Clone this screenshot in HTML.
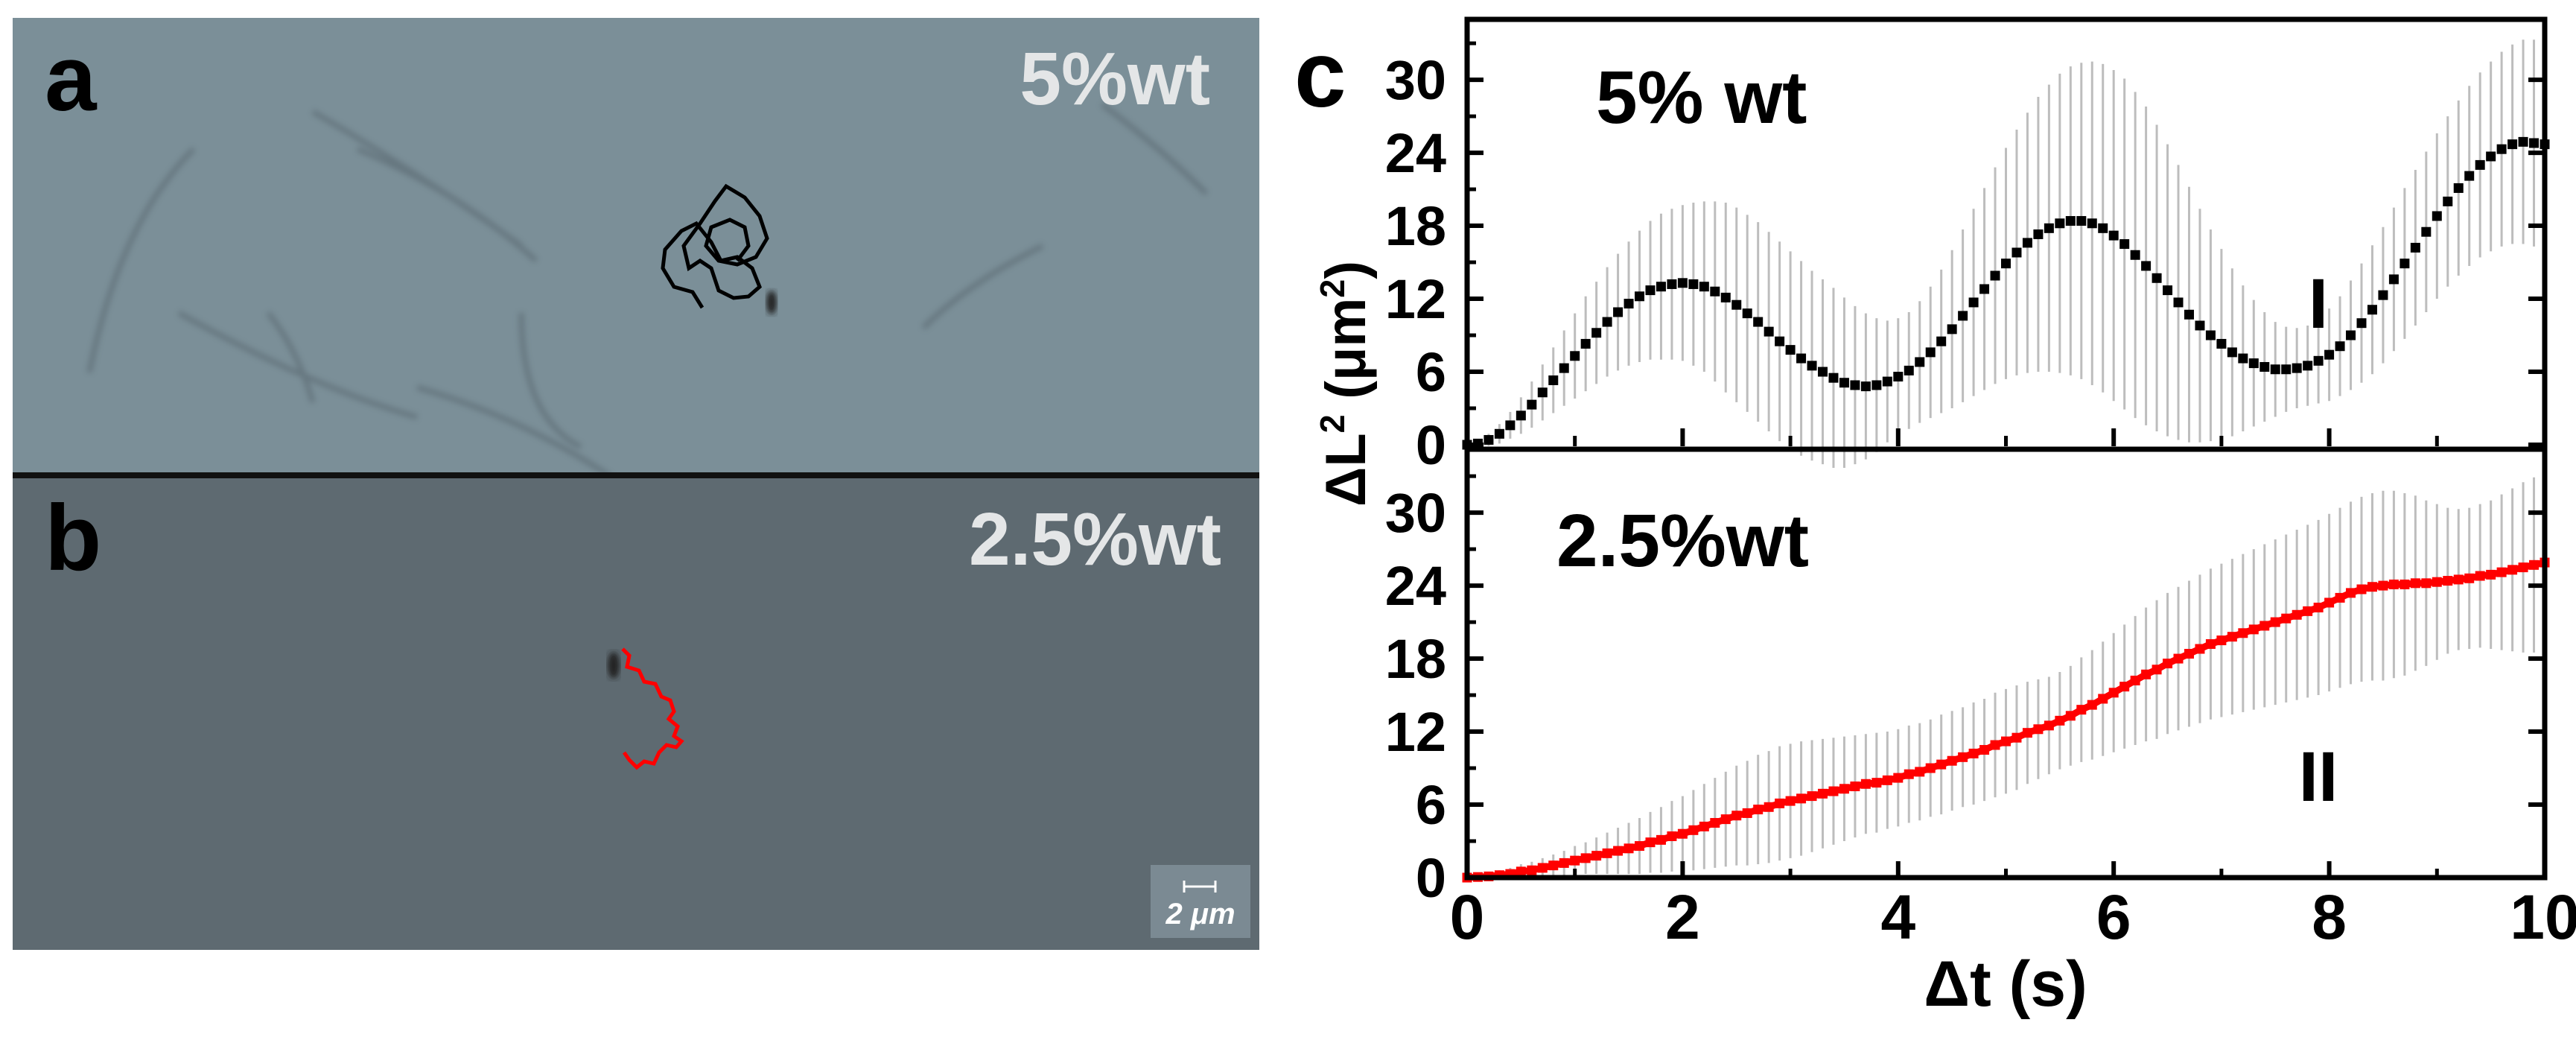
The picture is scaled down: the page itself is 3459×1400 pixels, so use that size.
<!DOCTYPE html>
<html><head><meta charset="utf-8"><style>
html,body{margin:0;padding:0;background:#fff}
svg{display:block}
text{font-family:"Liberation Sans",Arial,sans-serif;font-weight:bold}
</style></head><body>
<svg id="fig" width="3459" height="1400" viewBox="0 0 3459 1400" xmlns="http://www.w3.org/2000/svg">
<defs><filter id="blur"><feGaussianBlur stdDeviation="4"/></filter></defs>
<g>
<rect x="17" y="24" width="1674" height="614" fill="#7b8f98"/>
<g fill="none" stroke="#4d5a62" stroke-width="7" opacity="0.45" filter="url(#blur)">
<path d="M120 500 Q160 300 260 200"/><path d="M420 150 Q560 230 700 330"/><path d="M240 420 Q420 520 560 560"/><path d="M560 520 Q700 560 820 640"/><path d="M780 600 Q700 560 700 420"/><path d="M1240 440 Q1300 380 1400 330"/><path d="M1480 140 Q1560 200 1620 260"/><path d="M480 200 Q620 260 720 350"/><path d="M360 420 Q400 470 420 540"/>
</g>
<path d="M943 413 L930 392 L905 385 L890 360 L893 335 L915 310 L935 300 L955 325 L968 350 L990 345 L1010 360 L1020 385 L1005 398 L985 400 L965 390 L955 360 L940 350 L925 360 L918 330 L940 300 L960 270 L975 250 L1000 265 L1020 290 L1030 320 L1015 345 L990 355 L965 350 L948 330 L955 305 L980 295 L1000 305 L1005 330 L990 350" fill="none" stroke="#000" stroke-width="5"/>
<ellipse cx="1036" cy="406" rx="7" ry="16" fill="#222" filter="url(#blur)"/>
<text x="60" y="148" font-size="125" fill="#000">a</text>
<text x="1625" y="140" font-size="100" fill="#e4e6e7" text-anchor="end">5%wt</text>
</g>
<rect x="17" y="634" width="1674" height="8" fill="#111"/>
<g>
<rect x="17" y="642" width="1674" height="633" fill="#5e6a71"/>
<ellipse cx="824" cy="893" rx="8" ry="18" fill="#222" filter="url(#blur)"/>
<path d="M836 871 L845 880 L842 895 L858 900 L865 915 L880 918 L888 935 L900 940 L905 955 L898 965 L910 975 L905 988 L915 995 L908 1003 L895 1000 L885 1010 L878 1025 L865 1022 L855 1030 L845 1020 L838 1010" fill="none" stroke="#ff0000" stroke-width="5"/>
<text x="60" y="765" font-size="125" fill="#000">b</text>
<text x="1640" y="758" font-size="100" fill="#e4e6e7" text-anchor="end">2.5%wt</text>
<g>
<rect x="1545" y="1161" width="134" height="98" fill="#7b8a93"/>
<path d="M1590 1190 H1632 M1590 1182 V1198 M1632 1182 V1198" stroke="#fff" stroke-width="3"/>
<text x="1612" y="1240" font-size="40" font-style="italic" fill="#fff" text-anchor="middle">2 μm</text>
</g>
</g>
<text x="1738" y="143" font-size="125" fill="#000">c</text>
<g id="chart"></g>
</svg>
<script>
const xVals=[];for(let i=0;i<=100;i++)xVals.push(i/10);
const meanTop=[0,0.1,0.4,0.9,1.6,2.4,3.3,4.3,5.3,6.3,7.3,8.3,9.2,10.1,10.9,11.6,12.2,12.7,13.0,13.2,13.3,13.2,13.0,12.6,12.1,11.5,10.8,10.1,9.3,8.5,7.8,7.1,6.5,6.0,5.5,5.1,4.9,4.8,4.9,5.2,5.6,6.1,6.8,7.6,8.5,9.5,10.6,11.7,12.8,13.9,14.9,15.8,16.6,17.3,17.8,18.2,18.4,18.4,18.2,17.8,17.2,16.5,15.6,14.7,13.7,12.7,11.7,10.7,9.8,9.0,8.3,7.6,7.1,6.7,6.4,6.2,6.2,6.3,6.5,6.9,7.4,8.1,9.0,10.0,11.1,12.3,13.6,14.9,16.2,17.5,18.8,20.0,21.1,22.1,23.0,23.7,24.3,24.7,24.9,24.8,24.7];
const errTop=[0.2,0.3,0.5,0.8,1.1,1.5,1.9,2.3,2.7,3.1,3.5,3.9,4.2,4.5,4.8,5.1,5.4,5.7,6.0,6.2,6.4,6.7,7.0,7.4,7.8,8.0,8.1,8.2,8.2,8.2,8.1,8.0,7.8,7.6,7.4,7.0,6.5,6.0,5.5,5.0,4.8,4.8,5.0,5.4,5.9,6.5,7.1,7.7,8.3,8.9,9.5,10.1,10.7,11.3,11.8,12.3,12.7,13.0,13.3,13.5,13.6,13.6,13.4,13.1,12.6,12.0,11.3,10.5,9.6,8.7,7.8,6.9,6.0,5.2,4.5,3.9,3.5,3.3,3.3,3.5,3.8,4.1,4.5,4.9,5.3,5.6,5.9,6.2,6.4,6.6,6.8,7.0,7.2,7.4,7.6,7.8,8.0,8.2,8.4,8.5,8.6];
const meanBot=[0,0.05,0.1,0.2,0.3,0.5,0.6,0.8,1.0,1.2,1.4,1.6,1.8,2.0,2.2,2.4,2.6,2.9,3.1,3.4,3.6,3.9,4.2,4.5,4.8,5.1,5.3,5.6,5.8,6.1,6.3,6.5,6.7,6.9,7.1,7.3,7.5,7.7,7.8,8.0,8.2,8.5,8.7,9.0,9.3,9.6,9.9,10.2,10.5,10.9,11.2,11.5,11.9,12.2,12.5,12.9,13.3,13.8,14.2,14.7,15.2,15.7,16.2,16.7,17.1,17.6,18.0,18.4,18.8,19.2,19.5,19.8,20.1,20.4,20.7,21.0,21.3,21.6,21.9,22.2,22.6,23.0,23.4,23.7,23.9,24.0,24.1,24.1,24.2,24.2,24.3,24.4,24.5,24.6,24.8,24.9,25.1,25.3,25.5,25.7,25.9];
const errBot=[0.1,0.2,0.3,0.4,0.5,0.6,0.7,0.8,0.9,1.0,1.2,1.3,1.5,1.7,1.9,2.1,2.3,2.5,2.7,2.9,3.1,3.3,3.5,3.7,3.9,4.1,4.3,4.5,4.6,4.7,4.7,4.7,4.6,4.5,4.4,4.3,4.2,4.1,4.1,4.0,4.0,4.0,4.0,4.0,4.1,4.1,4.1,4.2,4.2,4.3,4.3,4.3,4.2,4.1,4.0,4.0,4.1,4.3,4.5,4.7,4.9,5.1,5.3,5.5,5.7,5.8,5.9,6.0,6.1,6.2,6.3,6.4,6.5,6.6,6.7,6.8,6.9,7.0,7.1,7.2,7.3,7.4,7.5,7.6,7.7,7.8,7.7,7.5,7.2,6.8,6.4,6.0,5.8,5.8,5.9,6.1,6.4,6.7,7.0,7.2,7.4];
const xTicks=[0,2,4,6,8,10];
const yTicks=[0,6,12,18,24,30];

const NS="http://www.w3.org/2000/svg";
const chart=document.getElementById('chart');
const X0=1970,X1=3417;
const sx=v=>X0+(X1-X0)*v/10;
const panels=[{top:26,zero:597,mean:meanTop,err:errTop,color:'#000',name:'top'},{top:605,zero:1178,mean:meanBot,err:errBot,color:'#ff0000',name:'bottom'}];
const PXU=16.33;
function mk(tag,attrs,parent){const e=document.createElementNS(NS,tag);for(const k in attrs)e.setAttribute(k,attrs[k]);(parent||chart).appendChild(e);return e;}
panels.forEach(p=>{
  const sy=v=>p.zero-v*PXU;
  const g=mk('g',{});
  
  
  xVals.forEach((x,i)=>{
    const l=mk('line',{x1:sx(x),x2:sx(x),y1:sy(p.mean[i]-p.err[i]),y2:sy(p.mean[i]+p.err[i]),stroke:'#bdbdbd','stroke-width':3},g);
    
    
  });
  if(p.name==='bottom'){
    const pl=mk('polyline',{points:xVals.map((x,i)=>sx(x)+','+sy(p.mean[i])).join(' '),fill:'none',stroke:p.color,'stroke-width':9},g);
    
    
  }
  xVals.forEach((x,i)=>{
    const r=mk('rect',{x:sx(x)-6.5,y:sy(p.mean[i])-6.5,width:13,height:13,fill:p.color},g);
    
    
  });
  yTicks.forEach(t=>{
    mk('line',{x1:X0,x2:X0+22,y1:sy(t),y2:sy(t),stroke:'#000','stroke-width':6},g);
    mk('line',{x1:X1,x2:X1-22,y1:sy(t),y2:sy(t),stroke:'#000','stroke-width':6},g);
    mk('line',{x1:X0,x2:X0+12,y1:sy(t+3),y2:sy(t+3),stroke:'#000','stroke-width':5},g);
    const tx=mk('text',{x:1942,y:sy(t)+26,'font-size':74,'text-anchor':'end',fill:'#000'},g);
    tx.textContent=t;
    
    
  });
  xTicks.forEach(t=>{
    mk('line',{x1:sx(t),x2:sx(t),y1:p.zero+2,y2:p.zero-22,stroke:'#000','stroke-width':6},g);
    if(t<10)mk('line',{x1:sx(t+1),x2:sx(t+1),y1:p.zero+2,y2:p.zero-12,stroke:'#000','stroke-width':5},g);
  });
});
mk('rect',{x:X0,y:26,width:X1-X0,height:1178-26,fill:'none',stroke:'#000','stroke-width':7});
mk('line',{x1:X0,x2:X1,y1:603,y2:603,stroke:'#000','stroke-width':7});
xTicks.forEach(t=>{
  const tx=mk('text',{x:sx(t),y:1260,'font-size':84,'text-anchor':'middle',fill:'#000'});
  tx.textContent=t;
  
  
});
const xt=mk('text',{x:2693,y:1350,'font-size':86,'text-anchor':'middle',fill:'#000'});
xt.textContent='Δt (s)';


const yt=mk('text',{x:0,y:0,'font-size':76,'text-anchor':'middle',fill:'#000',transform:'translate(1833,515) rotate(-90)',textLength:330,lengthAdjust:'spacingAndGlyphs'});
yt.innerHTML='ΔL<tspan dy="-28" font-size="46">2</tspan><tspan dy="28"> (μm</tspan><tspan dy="-28" font-size="46">2</tspan><tspan dy="28">)</tspan>';


const l1=mk('text',{x:2143,y:165,'font-size':100,fill:'#000'});
l1.textContent='5%  wt';l1.setAttribute('xml:space','preserve');


const l2=mk('text',{x:2090,y:760,'font-size':100,fill:'#000'});
l2.textContent='2.5%wt';


const r1=mk('text',{x:3113,y:440,'font-size':95,'text-anchor':'middle',fill:'#000'});
r1.textContent='I';


const r2=mk('text',{x:3113,y:1075,'font-size':95,'text-anchor':'middle',fill:'#000'});
r2.textContent='II';


</script>
</body></html>
